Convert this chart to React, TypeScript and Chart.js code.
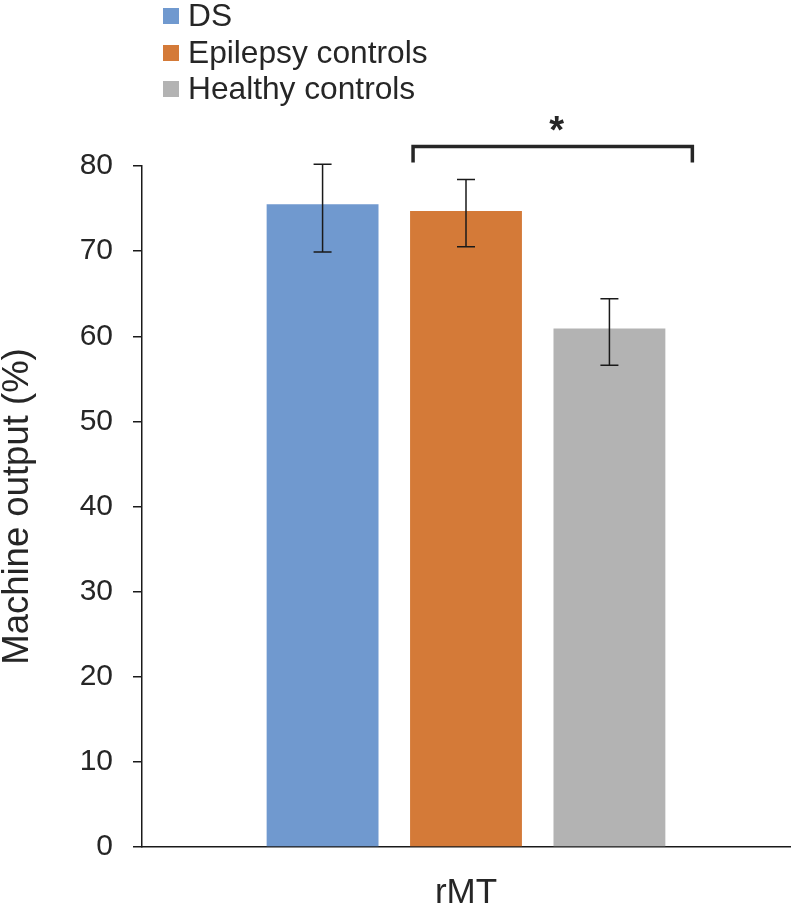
import React, { useEffect, useRef } from "react";
import { Chart, registerables } from "chart.js";

Chart.register(...registerables);

const categories = ["rMT"];
const seriesNames = ["DS", "Epilepsy controls", "Healthy controls"];
const seriesColors = ["#7099CF", "#D47A38", "#B3B3B3"];
const means = [75.5, 74.7, 60.9];
const errLow = [69.9, 70.5, 56.6];
const errHigh = [80.2, 78.4, 64.4];
const yTicks = [0, 10, 20, 30, 40, 50, 60, 70, 80];
const sigPair = [1, 2];
const sigLabel = "*";

const FONT = "'Liberation Sans', Arial, sans-serif";
const TEXT = "#262626";

const overlayPlugin = {
  id: "overlay",
  afterDatasetsDraw(chart: any) {
    const ctx = chart.ctx;
    const y = chart.scales.y;
    ctx.save();
    ctx.strokeStyle = "#1a1a1a";
    ctx.lineWidth = 1.5;
    chart.data.datasets.forEach((ds: any, i: number) => {
      const meta = chart.getDatasetMeta(i);
      const bar = meta.data[0];
      if (!bar) return;
      const x = bar.x;
      const yt = y.getPixelForValue(errHigh[i]);
      const yb = y.getPixelForValue(errLow[i]);
      const cap = 9;
      ctx.beginPath();
      ctx.moveTo(x, yt);
      ctx.lineTo(x, yb);
      ctx.moveTo(x - cap, yt);
      ctx.lineTo(x + cap, yt);
      ctx.moveTo(x - cap, yb);
      ctx.lineTo(x + cap, yb);
      ctx.stroke();
    });
    ctx.restore();
  },
  afterDraw(chart: any) {
    const ctx = chart.ctx;
    const y = chart.scales.y;
    const b1 = chart.getDatasetMeta(sigPair[0]).data[0];
    const b2 = chart.getDatasetMeta(sigPair[1]).data[0];
    if (b1 && b2) {
      const x1 = b1.x - b1.width / 2 + 3;
      const x2 = b2.x + b2.width / 2 + 27;
      const yTop = y.getPixelForValue(82.3);
      const yLeg = y.getPixelForValue(80.4);
      ctx.save();
      ctx.strokeStyle = TEXT;
      ctx.lineWidth = 3.5;
      ctx.lineJoin = "miter";
      ctx.beginPath();
      ctx.moveTo(x1, yLeg);
      ctx.lineTo(x1, yTop);
      ctx.lineTo(x2, yTop);
      ctx.lineTo(x2, yLeg);
      ctx.stroke();
      ctx.fillStyle = TEXT;
      ctx.font = `bold 38px ${FONT}`;
      ctx.textAlign = "center";
      ctx.textBaseline = "middle";
      ctx.fillText(sigLabel, (x1 + x2) / 2 + 4, y.getPixelForValue(84.6) + 6);
      ctx.restore();
    }
    ctx.save();
    const rows = [16, 53, 89];
    chart.data.datasets.forEach((ds: any, i: number) => {
      const cy = rows[i];
      ctx.fillStyle = ds.backgroundColor;
      ctx.fillRect(163, cy - 8, 16, 16);
      ctx.fillStyle = TEXT;
      ctx.font = `31.7px ${FONT}`;
      ctx.textAlign = "left";
      ctx.textBaseline = "middle";
      ctx.fillText(ds.label, 188, cy + 1);
    });
    ctx.restore();
  },
};

export default function App() {
  const ref = useRef<HTMLCanvasElement | null>(null);
  useEffect(() => {
    document.body.style.margin = "0";
    document.body.style.overflow = "hidden";
    const chart = new Chart(ref.current as HTMLCanvasElement, {
      type: "bar",
      data: {
        labels: categories,
        datasets: seriesNames.map((name, i) => ({
          label: name,
          data: [means[i]],
          backgroundColor: seriesColors[i],
          borderWidth: 0,
          categoryPercentage: 0.664,
          barPercentage: 0.78,
        })),
      },
      options: {
        animation: false,
        responsive: false,
        maintainAspectRatio: false,
        layout: { padding: { top: 166, right: 3, left: 0, bottom: 0 } },
        plugins: {
          legend: { display: false },
          tooltip: { enabled: false },
        },
        scales: {
          x: {
            grid: { display: false, drawTicks: false },
            border: { display: true, color: "#1a1a1a", width: 1.5 },
            ticks: { color: TEXT, font: { family: FONT, size: 35 }, padding: 25 },
            afterFit: (s: any) => {
              s.height = 59;
            },
          },
          y: {
            min: 0,
            max: 80,
            afterBuildTicks: (s: any) => {
              s.ticks = yTicks.map((v) => ({ value: v }));
            },
            grid: {
              drawOnChartArea: false,
              drawTicks: true,
              tickLength: 9,
              color: "#1a1a1a",
              lineWidth: 1.5,
            },
            border: { display: true, color: "#1a1a1a", width: 1.5 },
            ticks: {
              color: TEXT,
              font: { family: FONT, size: 30 },
              padding: 20,
            },
            title: {
              display: true,
              text: "Machine output (%)",
              color: TEXT,
              font: { family: FONT, size: 36.5, lineHeight: 1 },
              padding: { top: 0, bottom: 0 },
            },
            afterFit: (s: any) => {
              s.width = 142;
            },
          },
        },
      },
      plugins: [overlayPlugin],
    } as any);
    return () => chart.destroy();
  }, []);
  return (
    <div style={{ width: 793, height: 906 }}>
      <canvas ref={ref} width={793} height={906} style={{ display: "block" }} />
    </div>
  );
}
